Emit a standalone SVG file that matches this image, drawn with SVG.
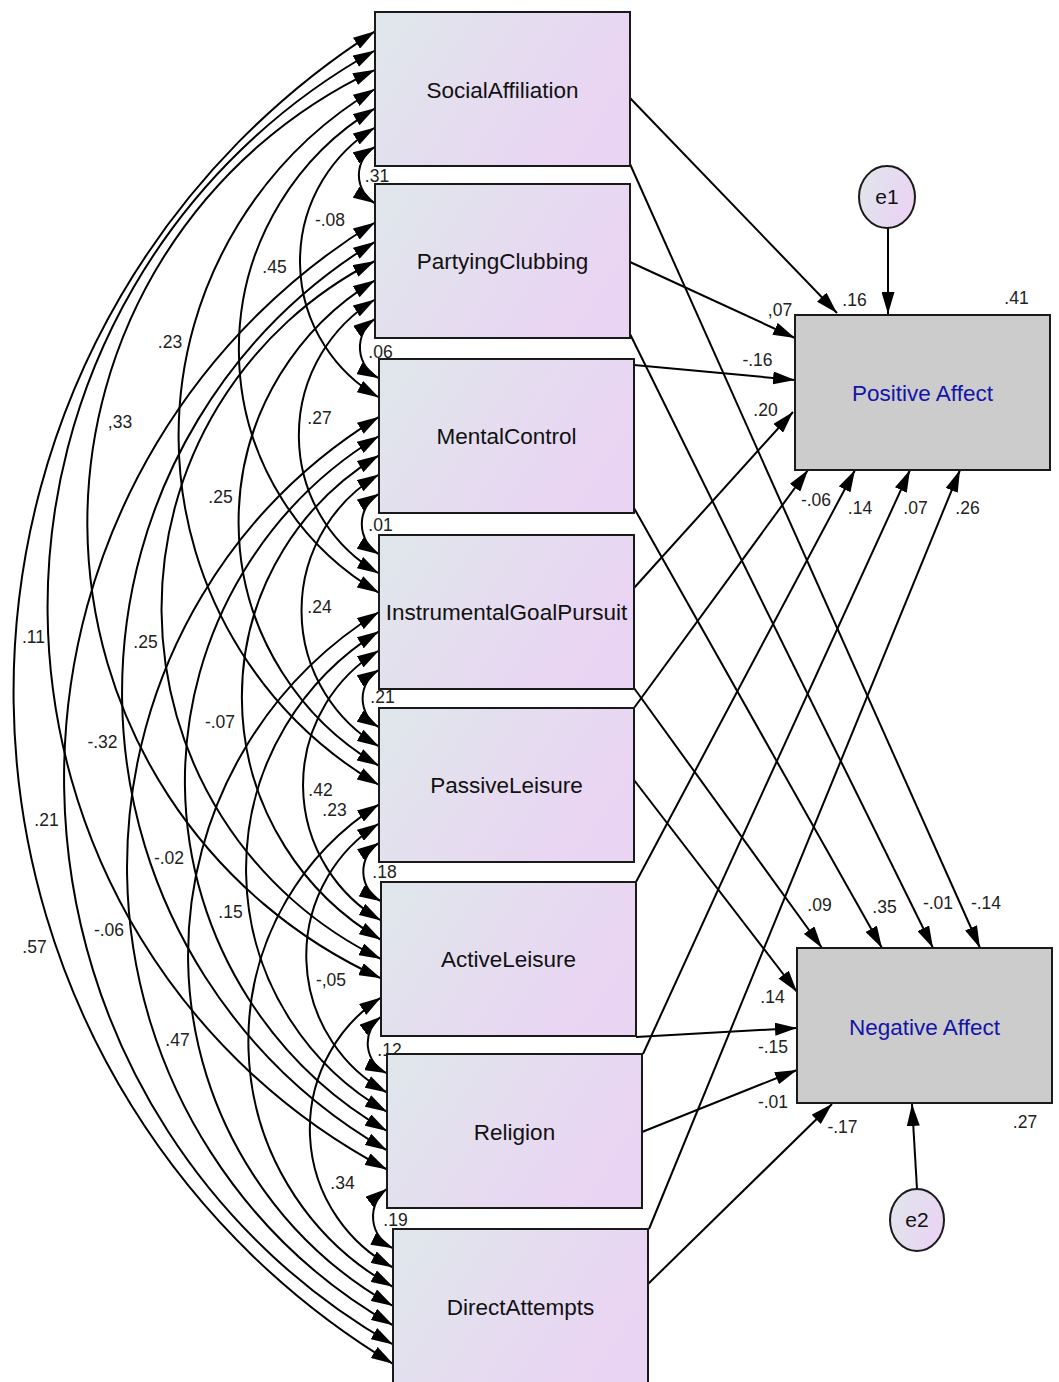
<svg xmlns="http://www.w3.org/2000/svg" width="1059" height="1382" viewBox="0 0 1059 1382">
<defs>
<linearGradient id="g" x1="0" y1="0" x2="1" y2="0.4">
<stop offset="0" stop-color="#dfe7eb"/>
<stop offset="1" stop-color="#ead4f3"/>
</linearGradient>
<marker id="ah" viewBox="0 0 22 13" refX="22" refY="6.5" markerWidth="22" markerHeight="13" markerUnits="userSpaceOnUse" orient="auto-start-reverse">
<path d="M0,0 L22,6.5 L0,13 z" fill="#000"/>
</marker>
</defs>
<style>
.box{fill:url(#g);stroke:#1a1a1a;stroke-width:2}
.dep{fill:#cccccc;stroke:#1a1a1a;stroke-width:2}
.err{fill:url(#g);stroke:#1a1a1a;stroke-width:2}
.t{font-family:"Liberation Sans",Arial,sans-serif;font-size:22.5px;text-anchor:middle;fill:#111}
.dt{font-family:"Liberation Sans",Arial,sans-serif;font-size:22.5px;text-anchor:middle;fill:#1414a8}
.et{font-family:"Liberation Sans",Arial,sans-serif;font-size:21px;text-anchor:middle;fill:#111}
.lb{font-family:"Liberation Sans",Arial,sans-serif;font-size:17.5px;text-anchor:middle;fill:#222}
.cov{fill:none;stroke:#000;stroke-width:2;marker-start:url(#ah);marker-end:url(#ah)}
.reg{fill:none;stroke:#000;stroke-width:2;marker-end:url(#ah)}
</style>
<rect width="1059" height="1382" fill="#fff"/>
<g id="connectors">
<path class="cov" d="M375,146.8 A32.8,32.8 0 0 0 375,203.3"/>
<path class="cov" d="M375,127.5 A156.9,156.9 0 0 0 379,397.5"/>
<path class="cov" d="M375,108.3 A281.5,281.5 0 0 0 379,592.8"/>
<path class="cov" d="M375,89 A404.4,404.4 0 0 0 379,785"/>
<path class="cov" d="M375,69.8 A500.3,500.3 0 0 0 381,978.3"/>
<path class="cov" d="M375,50.5 A636.2,636.2 0 0 0 387,1169.5"/>
<path class="cov" d="M375,31.3 A784.5,784.5 0 0 0 393,1363.8"/>
<path class="cov" d="M375,318.8 A34.6,34.6 0 0 0 379,378.3"/>
<path class="cov" d="M375,299.5 A159.2,159.2 0 0 0 379,573.5"/>
<path class="cov" d="M375,280.3 A282.1,282.1 0 0 0 379,765.8"/>
<path class="cov" d="M375,261 A389.6,389.6 0 0 0 381,959"/>
<path class="cov" d="M375,241.8 A528,528 0 0 0 387,1150.3"/>
<path class="cov" d="M375,222.5 A652,652 0 0 0 393,1344.5"/>
<path class="cov" d="M379,493.8 A35.2,35.2 0 0 0 379,554.3"/>
<path class="cov" d="M379,474.5 A158.1,158.1 0 0 0 379,746.5"/>
<path class="cov" d="M379,455.3 A281.5,281.5 0 0 0 381,939.8"/>
<path class="cov" d="M379,436 A403.9,403.9 0 0 0 387,1131"/>
<path class="cov" d="M379,416.8 A528,528 0 0 0 393,1325.3"/>
<path class="cov" d="M379,669.8 A33.4,33.4 0 0 0 379,727.3"/>
<path class="cov" d="M379,650.5 A156.9,156.9 0 0 0 381,920.5"/>
<path class="cov" d="M379,631.3 A279.3,279.3 0 0 0 387,1111.8"/>
<path class="cov" d="M379,612 A403.3,403.3 0 0 0 393,1306"/>
<path class="cov" d="M379,842.8 A34,34 0 0 0 381,901.3"/>
<path class="cov" d="M379,823.5 A156.4,156.4 0 0 0 387,1092.5"/>
<path class="cov" d="M379,804.3 A280.5,280.5 0 0 0 393,1286.8"/>
<path class="cov" d="M381,1016.8 A33,33 0 0 0 387,1073.3"/>
<path class="cov" d="M381,997.5 A157,157 0 0 0 393,1267.5"/>
<path class="cov" d="M387,1188.8 A34.9,34.9 0 0 0 393,1248.3"/>
<path class="reg" d="M630,98 L837,313"/>
<path class="reg" d="M630,262 L795,338"/>
<path class="reg" d="M634,365 L795,380"/>
<path class="reg" d="M634,588 L793,412"/>
<path class="reg" d="M634,708 L808,470"/>
<path class="reg" d="M636,882 L855,470"/>
<path class="reg" d="M643,1054 L910,470"/>
<path class="reg" d="M649,1229 L960,470"/>
<path class="reg" d="M630,164 L980,948"/>
<path class="reg" d="M630,334 L933,948"/>
<path class="reg" d="M634,508 L882,948"/>
<path class="reg" d="M634,688 L822,948"/>
<path class="reg" d="M634,780 L797,992"/>
<path class="reg" d="M636,1037 L797,1028"/>
<path class="reg" d="M642,1132 L797,1070"/>
<path class="reg" d="M648,1284 L832,1104"/>
<path class="reg" d="M888,228 L888,314"/>
<path class="reg" d="M917,1189 L912,1104"/>
</g>
<g id="coefficients">
<text class="lb" x="377" y="182">.31</text>
<text class="lb" x="330" y="226">-.08</text>
<text class="lb" x="274.5" y="273">.45</text>
<text class="lb" x="170" y="348">.23</text>
<text class="lb" x="120" y="428">,33</text>
<text class="lb" x="380.5" y="358">.06</text>
<text class="lb" x="319.5" y="424">.27</text>
<text class="lb" x="220.5" y="503">.25</text>
<text class="lb" x="380.5" y="531">.01</text>
<text class="lb" x="319.5" y="613">.24</text>
<text class="lb" x="33.5" y="643">.11</text>
<text class="lb" x="145.5" y="648">.25</text>
<text class="lb" x="382.5" y="703">.21</text>
<text class="lb" x="220" y="728">-.07</text>
<text class="lb" x="102.5" y="748">-.32</text>
<text class="lb" x="320.5" y="796">.42</text>
<text class="lb" x="334.5" y="816">.23</text>
<text class="lb" x="46.5" y="826">.21</text>
<text class="lb" x="169" y="864">-.02</text>
<text class="lb" x="384.5" y="878">.18</text>
<text class="lb" x="230.5" y="918">.15</text>
<text class="lb" x="109" y="936">-.06</text>
<text class="lb" x="34.5" y="953">.57</text>
<text class="lb" x="331" y="986">-,05</text>
<text class="lb" x="177.5" y="1046">.47</text>
<text class="lb" x="389.5" y="1056">.12</text>
<text class="lb" x="342.5" y="1189">.34</text>
<text class="lb" x="395.5" y="1226">.19</text>
<text class="lb" x="854.5" y="306">.16</text>
<text class="lb" x="1016.5" y="304">.41</text>
<text class="lb" x="780" y="316">,07</text>
<text class="lb" x="757.5" y="366">-.16</text>
<text class="lb" x="765.5" y="416">.20</text>
<text class="lb" x="816" y="506">-.06</text>
<text class="lb" x="860" y="514">.14</text>
<text class="lb" x="915.5" y="514">.07</text>
<text class="lb" x="967.5" y="514">.26</text>
<text class="lb" x="819.5" y="911">.09</text>
<text class="lb" x="884.5" y="913">.35</text>
<text class="lb" x="938" y="909">-.01</text>
<text class="lb" x="986" y="909">-.14</text>
<text class="lb" x="772.5" y="1003">.14</text>
<text class="lb" x="773" y="1053">-.15</text>
<text class="lb" x="773" y="1108">-.01</text>
<text class="lb" x="842.5" y="1133">-.17</text>
<text class="lb" x="1025" y="1128">.27</text>
</g>
<g id="SocialAffiliation"><rect class="box" x="375" y="12" width="255" height="154"/><text class="t" x="502.5" y="98">SocialAffiliation</text></g>
<g id="PartyingClubbing"><rect class="box" x="375" y="184" width="255" height="154"/><text class="t" x="502.5" y="269">PartyingClubbing</text></g>
<g id="MentalControl"><rect class="box" x="379" y="359" width="255" height="154"/><text class="t" x="506.5" y="444">MentalControl</text></g>
<g id="InstrumentalGoalPursuit"><rect class="box" x="379" y="535" width="255" height="154"/><text class="t" x="506.5" y="620">InstrumentalGoalPursuit</text></g>
<g id="PassiveLeisure"><rect class="box" x="379" y="708" width="255" height="154"/><text class="t" x="506.5" y="793">PassiveLeisure</text></g>
<g id="ActiveLeisure"><rect class="box" x="381" y="882" width="255" height="154"/><text class="t" x="508.5" y="967">ActiveLeisure</text></g>
<g id="Religion"><rect class="box" x="387" y="1054" width="255" height="154"/><text class="t" x="514.5" y="1140">Religion</text></g>
<g id="DirectAttempts"><rect class="box" x="393" y="1229" width="255" height="154"/><text class="t" x="520.5" y="1315">DirectAttempts</text></g>
<g id="PositiveAffect"><rect class="dep" x="795" y="315" width="255" height="155"/><text class="dt" x="922.5" y="401">Positive Affect</text></g>
<g id="NegativeAffect"><rect class="dep" x="797" y="948" width="255" height="155"/><text class="dt" x="924.5" y="1035">Negative Affect</text></g>
<g id="e1"><ellipse class="err" cx="887" cy="197" rx="28" ry="31"/><text class="et" x="887" y="204">e1</text></g>
<g id="e2"><ellipse class="err" cx="917" cy="1220" rx="27" ry="31"/><text class="et" x="917" y="1227">e2</text></g>
</svg>
